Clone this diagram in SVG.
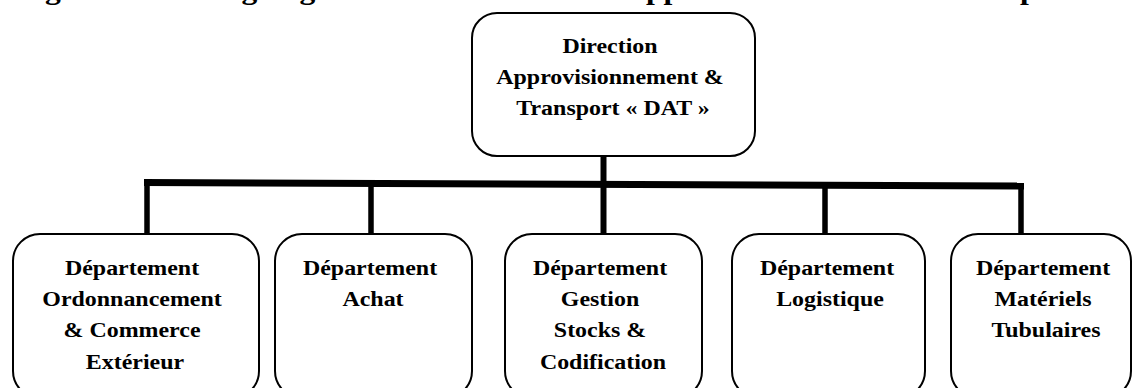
<svg xmlns="http://www.w3.org/2000/svg" width="1134" height="388" viewBox="0 0 1134 388">
  <style>
    .box { fill: #ffffff; stroke: #000000; stroke-width: 2; }
    .lbl { font-family: "Liberation Serif", "Times New Roman", serif; font-weight: bold; font-size: 21px; fill: #000000; text-anchor: middle; }
    .title { font-family: "Liberation Serif", "Times New Roman", serif; font-weight: bold; font-size: 27.7px; fill: #000000; }
    .bar { fill: none; stroke: #000000; stroke-linecap: butt; stroke-linejoin: miter; }
  </style>

  <!-- caption line running above the frame -->
  <g id="caption">
    <text class="title" transform="matrix(1.14 0 0 1 17 -1)" x="0" y="0">Figure</text>
    <text class="title" transform="matrix(1.14 0 0 1 203 -1)" x="0" y="0">Organigramme de la Direction Approvisionnement &amp;<tspan dx="16">Transport</tspan></text>
  </g>

  <!-- tree connectors -->
  <g id="connectors">
    <path class="bar" stroke-width="6" d="M603.5,156 V184"/>
    <path class="bar" stroke-width="7" d="M144,182.5 L1024,186"/>
    <path class="bar" stroke-width="5.5" d="M147,180 V234"/>
    <path class="bar" stroke-width="5.5" d="M371,183 V234"/>
    <path class="bar" stroke-width="6" d="M603.5,184 V234"/>
    <path class="bar" stroke-width="5.5" d="M825,185 V234"/>
    <path class="bar" stroke-width="5.5" d="M1021,184 V234"/>
  </g>

  <g id="node-dat">
    <rect class="box" x="472" y="13" width="283" height="143" rx="25" ry="25"/>
    <text class="lbl" transform="matrix(1.14 0 0 1 613 0)">
      <tspan x="0" y="53">Direction</tspan>
      <tspan x="0" y="84">Approvisionnement &amp;</tspan>
      <tspan x="0" y="115">Transport « DAT »</tspan>
    </text>
  </g>

  <g id="node-ordonnancement">
    <rect class="box" x="13" y="234" width="246" height="164" rx="27" ry="27"/>
    <text class="lbl" transform="matrix(1.14 0 0 1 135 0)">
      <tspan x="0" y="275">Département</tspan>
      <tspan x="0" y="306">Ordonnancement</tspan>
      <tspan x="0" y="337.5">&amp; Commerce</tspan>
      <tspan x="0" y="369">Extérieur</tspan>
    </text>
  </g>

  <g id="node-achat">
    <rect class="box" x="275" y="234" width="197" height="164" rx="27" ry="27"/>
    <text class="lbl" transform="matrix(1.14 0 0 1 373 0)">
      <tspan x="0" y="275">Département</tspan>
      <tspan x="0" y="306">Achat</tspan>
    </text>
  </g>

  <g id="node-stocks">
    <rect class="box" x="505" y="234" width="197" height="164" rx="27" ry="27"/>
    <text class="lbl" transform="matrix(1.14 0 0 1 603 0)">
      <tspan x="0" y="275">Département</tspan>
      <tspan x="0" y="306">Gestion</tspan>
      <tspan x="0" y="337.5">Stocks &amp;</tspan>
      <tspan x="0" y="369">Codification</tspan>
    </text>
  </g>

  <g id="node-logistique">
    <rect class="box" x="732" y="234" width="193" height="164" rx="27" ry="27"/>
    <text class="lbl" transform="matrix(1.14 0 0 1 830 0)">
      <tspan x="0" y="275">Département</tspan>
      <tspan x="0" y="306">Logistique</tspan>
    </text>
  </g>

  <g id="node-tubulaires">
    <rect class="box" x="951" y="234" width="180" height="164" rx="27" ry="27"/>
    <text class="lbl" transform="matrix(1.14 0 0 1 1046 0)">
      <tspan x="0" y="275">Département</tspan>
      <tspan x="0" y="306">Matériels</tspan>
      <tspan x="0" y="337.5">Tubulaires</tspan>
    </text>
  </g>
</svg>
